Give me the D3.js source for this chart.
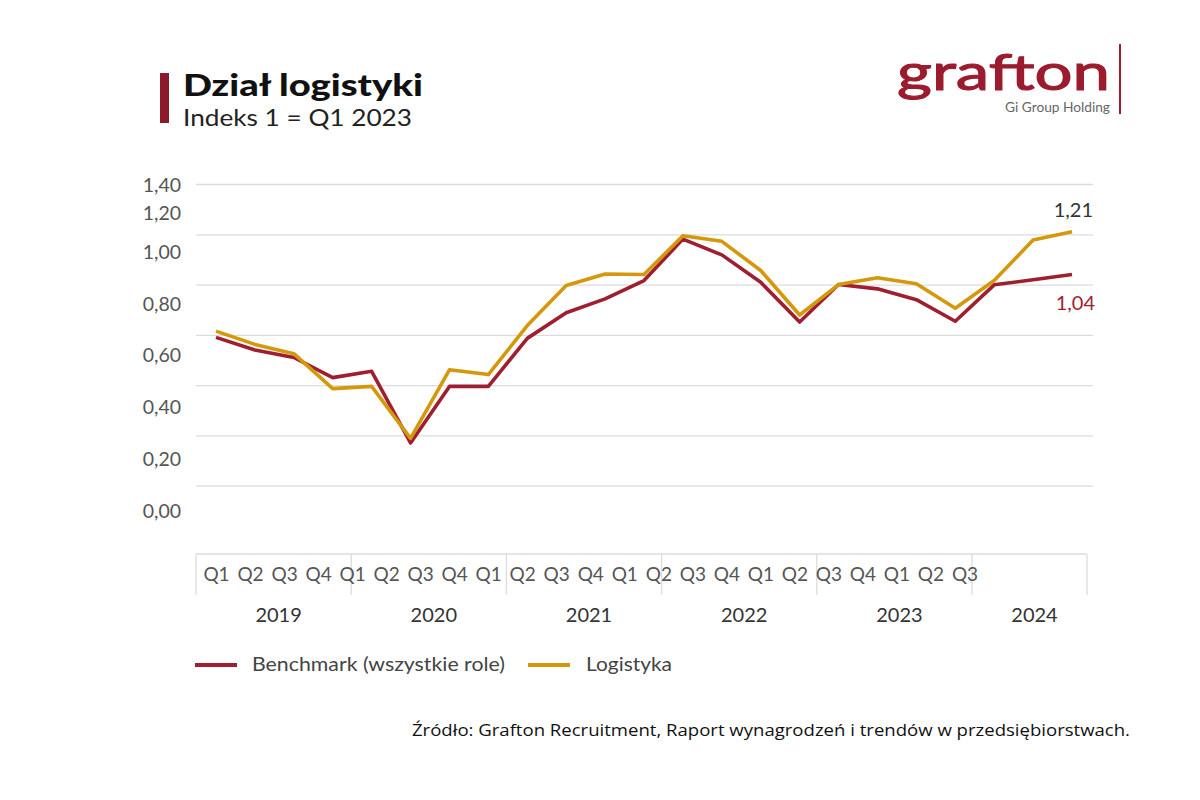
<!DOCTYPE html>
<html>
<head>
<meta charset="utf-8">
<script src="https://cdn.jsdelivr.net/npm/d3@7"></script>
<style>
  html, body { margin: 0; padding: 0; background: #ffffff; }
  svg { display: block; }
  text { font-family: Lato, "Open Sans", sans-serif; }
</style>
</head>
<body>
<svg id="chart" width="1200" height="800"></svg>
<script>
// ---------- data ----------
const quarters = ["Q1","Q2","Q3","Q4","Q1","Q2","Q3","Q4","Q1","Q2","Q3","Q4",
                  "Q1","Q2","Q3","Q4","Q1","Q2","Q3","Q4","Q1","Q2","Q3"];
const years = ["2019","2020","2021","2022","2023","2024"];
const benchmark = [0.79,0.74,0.71,0.63,0.655,0.37,0.595,0.595,0.786,0.888,0.943,1.016,
                   1.181,1.118,1.009,0.851,1.00,0.983,0.94,0.854,0.999,1.019,1.04];
const logistyka = [0.815,0.762,0.725,0.586,0.595,0.388,0.661,0.642,0.837,0.996,1.042,1.04,
                   1.194,1.172,1.056,0.879,1.00,1.027,1.003,0.906,1.016,1.177,1.21];
const yTicks = [0, 0.2, 0.4, 0.6, 0.8, 1.0, 1.2, 1.4];
const gridTicks = [0.2, 0.4, 0.6, 0.8, 1.0, 1.2, 1.4];
const seriesNames = ["Benchmark (wszystkie role)", "Logistyka"];
const endLabels = ["1,04", "1,21"];

// ---------- style ----------
const RED = "#9e1f2f";
const GOLD = "#d4980c";
const fmt = v => d3.format(".2f")(v).replace(".", ",");

const svg = d3.select("#chart");

// ---------- header ----------
svg.append("rect").attr("x", 160).attr("y", 73).attr("width", 9).attr("height", 50).attr("fill", "#8c1a2b");
svg.append("text").attr("x", 183).attr("y", 96).attr("font-size", 31).attr("font-weight", 900)
   .attr("fill", "#111").attr("textLength", 240).attr("lengthAdjust", "spacingAndGlyphs")
   .text("Dział logistyki");
svg.append("text").attr("x", 183).attr("y", 126).attr("font-size", 22.5).attr("font-weight", 400)
   .attr("fill", "#222").attr("textLength", 229).attr("lengthAdjust", "spacingAndGlyphs")
   .text("Indeks 1 = Q1 2023");

// logo
svg.append("text").attr("x", 897).attr("y", 90).attr("font-size", 50).attr("font-weight", 400)
   .attr("fill", "#9b1c2e").attr("stroke", "#9b1c2e").attr("stroke-width", 1.1)
   .attr("textLength", 213).attr("lengthAdjust", "spacingAndGlyphs")
   .text("grafton");
svg.append("rect").attr("x", 1119).attr("y", 44).attr("width", 2).attr("height", 70).attr("fill", "#9b1c2e");
svg.append("text").attr("x", 1110).attr("y", 112).attr("font-size", 14).attr("text-anchor", "end")
   .attr("fill", "#666").attr("textLength", 105).attr("lengthAdjust", "spacingAndGlyphs")
   .text("Gi Group Holding");

// ---------- scales ----------
const y = d3.scaleLinear().domain([0, 1.4]).range([536, 184]);
const yLabel = d3.scaleLinear().domain(yTicks).range([511, 459, 407, 355, 304, 252, 213, 185]);
const x = d3.scalePoint().domain(d3.range(quarters.length)).range([216, 1072]);
const xq = d3.scalePoint().domain(d3.range(quarters.length)).range([216.5, 965]);
const xs = d3.scaleLinear().domain([0, 6]).range([196, 196 + 155.2 * 6]);
const plotLeft = 196, plotRight = 1093, boxRight = 1087;

// gridlines
const grid = svg.append("g").attr("transform", `translate(${plotLeft},0)`)
  .call(d3.axisLeft(y).tickValues(gridTicks).tickSize(-(plotRight - plotLeft)).tickFormat(""));
grid.select(".domain").remove();
grid.selectAll(".tick line").attr("stroke", "#dcdcdc").attr("stroke-width", 1.3);

// y labels
svg.append("g").selectAll("text").data(yTicks).join("text")
  .attr("x", 181).attr("y", d => yLabel(d)).attr("dy", "0.35em")
  .attr("text-anchor", "end").attr("font-size", 19.5).attr("fill", "#555")
  .text(d => fmt(d));

// ---------- x axis box ----------
const axisTop = 554, axisBottom = 595;
svg.append("line").attr("x1", plotLeft).attr("x2", boxRight).attr("y1", axisTop).attr("y2", axisTop)
   .attr("stroke", "#dcdcdc").attr("stroke-width", 1.3);
svg.append("g").selectAll("line").data(d3.range(years.length + 1)).join("line")
  .attr("x1", i => Math.min(xs(i), boxRight)).attr("x2", i => Math.min(xs(i), boxRight))
  .attr("y1", axisTop).attr("y2", axisBottom)
  .attr("stroke", "#dcdcdc").attr("stroke-width", 1.3);

svg.append("g").selectAll("text").data(quarters).join("text")
  .attr("x", (d, i) => xq(i)).attr("y", 574).attr("dy", "0.35em")
  .attr("text-anchor", "middle").attr("font-size", 19).attr("fill", "#555")
  .text(d => d);

svg.append("g").selectAll("text").data(years).join("text")
  .attr("x", (d, i) => (xs(i) + Math.min(xs(i + 1), boxRight)) / 2 + 5)
  .attr("y", 615).attr("dy", "0.35em")
  .attr("text-anchor", "middle").attr("font-size", 20).attr("fill", "#333")
  .text(d => d);

// ---------- lines ----------
const line = d3.line().x((d, i) => x(i)).y(d => y(d)).curve(d3.curveLinear);
svg.append("path").datum(benchmark).attr("d", line).attr("fill", "none")
   .attr("stroke", RED).attr("stroke-width", 3.6).attr("stroke-linejoin", "round");
svg.append("path").datum(logistyka).attr("d", line).attr("fill", "none")
   .attr("stroke", GOLD).attr("stroke-width", 3.6).attr("stroke-linejoin", "round");

// end labels
const lastI = quarters.length - 1;
svg.append("text").attr("x", x(lastI) + 21).attr("y", y(logistyka[lastI]) - 22).attr("dy", "0.35em")
   .attr("text-anchor", "end").attr("font-size", 20).attr("fill", "#333").text(endLabels[1]);
svg.append("text").attr("x", x(lastI) + 23).attr("y", y(benchmark[lastI]) + 28).attr("dy", "0.35em")
   .attr("text-anchor", "end").attr("font-size", 20).attr("fill", RED).text(endLabels[0]);

// ---------- legend ----------
const legend = svg.append("g");
const legendItems = [
  {name: seriesNames[0], color: RED, x0: 195, tx: 252, w: 253},
  {name: seriesNames[1], color: GOLD, x0: 528, tx: 586, w: 86}
];
legend.selectAll("line").data(legendItems).join("line")
  .attr("x1", d => d.x0).attr("x2", d => d.x0 + 42).attr("y1", 665).attr("y2", 665)
  .attr("stroke", d => d.color).attr("stroke-width", 4);
legend.selectAll("text").data(legendItems).join("text")
  .attr("x", d => d.tx).attr("y", 664).attr("dy", "0.35em")
  .attr("font-size", 20).attr("fill", "#444")
  .attr("textLength", d => d.w).attr("lengthAdjust", "spacingAndGlyphs")
  .text(d => d.name);

// ---------- source ----------
svg.append("text").attr("x", 412).attr("y", 730).attr("dy", "0.35em")
   .attr("font-size", 17).attr("fill", "#111").style("font-family", "'Open Sans', sans-serif")
   .attr("textLength", 718).attr("lengthAdjust", "spacingAndGlyphs")
   .text("Źródło: Grafton Recruitment, Raport wynagrodzeń i trendów w przedsiębiorstwach.");
</script>
</body>
</html>
